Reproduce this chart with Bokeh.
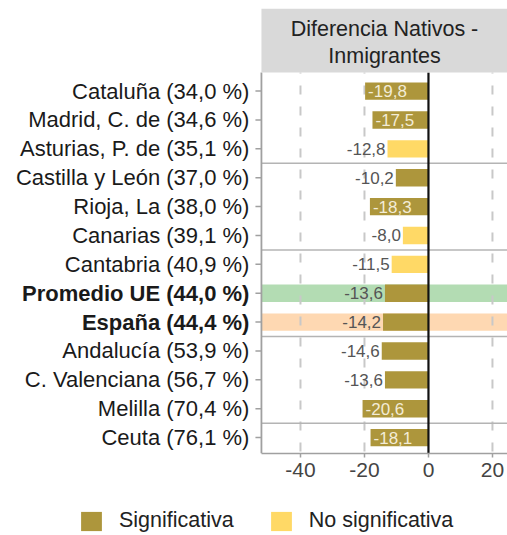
import numpy as np
from bokeh.plotting import figure
from bokeh.layouts import column
from bokeh.models import ColumnDataSource, Range1d, FixedTicker, Legend, LegendItem
from bokeh.core.properties import value
from bokeh.embed import file_html
from bokeh.resources import INLINE

# ---------------- data ----------------
regions = ["Cataluña (34,0 %)", "Madrid, C. de (34,6 %)", "Asturias, P. de (35,1 %)",
           "Castilla y León (37,0 %)", "Rioja, La (38,0 %)", "Canarias (39,1 %)",
           "Cantabria (40,9 %)", "Promedio UE (44,0 %)", "España (44,4 %)",
           "Andalucía (53,9 %)", "C. Valenciana (56,7 %)", "Melilla (70,4 %)",
           "Ceuta (76,1 %)"]
diffs = [-19.8, -17.5, -12.8, -10.2, -18.3, -8.0, -11.5, -13.6, -14.2, -14.6, -13.6, -20.6, -18.1]
significant = [True, True, False, True, True, False, False, True, True, True, True, True, True]
bold_rows = ["Promedio UE (44,0 %)", "España (44,4 %)"]
highlight_rows = {"Promedio UE (44,0 %)": "#b3dcb3", "España (44,4 %)": "#fed8b2"}
separator_after = ["Asturias, P. de (35,1 %)", "Canarias (39,1 %)", "España (44,4 %)", "Melilla (70,4 %)"]
x_ticks = [-40, -20, 0, 20]
grid_ticks = [-40, -20, 20]
strip_title = "Diferencia Nativos -\nInmigrantes"
legend_labels = ["Significativa", "No significativa"]

# ---------------- styles ----------------
FONT = "Liberation Sans"
COL_SIG = "#ad963c"
COL_NS = "#ffd966"
AXIS_COL = "#a0a0a0"
BAR_H = 0.6
X_VIEW_LO = -133.75          # left edge of the figure (label area)
X_LO, X_HI = -52.2, 24.7     # panel extent
PANEL_TOP, PANEL_BOT = -0.64, 12.55
STRIP_TOP = -2.86
INSIDE_MIN = 15

n = len(regions)
ys = list(range(n))

p = figure(width=507, height=490, output_backend="svg", toolbar_location=None,
           x_range=Range1d(X_VIEW_LO, X_HI), y_range=Range1d(PANEL_BOT, STRIP_TOP),
           min_border_left=0, min_border_right=0, min_border_top=8, min_border_bottom=37)
p.outline_line_color = None
p.xgrid.visible = False
p.ygrid.visible = False
p.yaxis.visible = False
p.background_fill_color = "white"
p.border_fill_color = "white"

# highlight bands
hl_y = [regions.index(r) for r in highlight_rows]
hl_c = list(highlight_rows.values())
p.hbar(y=hl_y, left=X_LO, right=X_HI, height=BAR_H, color=hl_c, line_color=None)

# dashed grid lines
p.segment(x0=grid_ticks, x1=grid_ticks, y0=PANEL_TOP, y1=PANEL_BOT,
          line_color="#c8c8c8", line_width=2, line_dash="9 12", line_dash_offset=8)

# group separators
sep_y = [regions.index(r) + 0.5 for r in separator_after]
p.segment(x0=X_LO, x1=X_HI, y0=sep_y, y1=sep_y, line_color="#b4b4b4", line_width=1.5)

# bars
sig_src = ColumnDataSource(dict(y=[y for y, s in zip(ys, significant) if s],
                                v=[d for d, s in zip(diffs, significant) if s]))
ns_src = ColumnDataSource(dict(y=[y for y, s in zip(ys, significant) if not s],
                               v=[d for d, s in zip(diffs, significant) if not s]))
p.hbar(y="y", left=0, right="v", height=BAR_H, source=sig_src, color=COL_SIG, line_color=None)
p.hbar(y="y", left=0, right="v", height=BAR_H, source=ns_src, color=COL_NS, line_color=None)

# value labels
def fmt(v):
    return f"{v:.1f}".replace(".", ",")

in_src = ColumnDataSource(dict(x=[d for d in diffs if abs(d) > INSIDE_MIN],
                               y=[y for y, d in zip(ys, diffs) if abs(d) > INSIDE_MIN],
                               t=[fmt(d) for d in diffs if abs(d) > INSIDE_MIN]))
out_src = ColumnDataSource(dict(x=[d for d in diffs if abs(d) <= INSIDE_MIN],
                                y=[y for y, d in zip(ys, diffs) if abs(d) <= INSIDE_MIN],
                                t=[fmt(d) for d in diffs if abs(d) <= INSIDE_MIN]))
p.text(x="x", y="y", text="t", source=in_src, x_offset=3, text_align="left", text_baseline="middle",
       text_font=value(FONT), text_font_size="17px", text_color="#f3ecd6")
p.text(x="x", y="y", text="t", source=out_src, x_offset=-2, text_align="right", text_baseline="middle",
       text_font=value(FONT), text_font_size="17px", text_color="#555555")

# zero line
p.segment(x0=[0], x1=[0], y0=PANEL_TOP, y1=PANEL_BOT, line_color="#111111", line_width=2.2)

# panel left border + category ticks
p.segment(x0=[X_LO], x1=[X_LO], y0=PANEL_TOP, y1=PANEL_BOT, line_color=AXIS_COL, line_width=1.8)
p.ray(x=X_LO, y=ys, length=6, length_units="screen", angle=np.pi,
      line_color=AXIS_COL, line_width=1.5)

# category labels
norm_src = ColumnDataSource(dict(y=[y for y, r in zip(ys, regions) if r not in bold_rows],
                                 t=[r for r in regions if r not in bold_rows]))
bold_src = ColumnDataSource(dict(y=[y for y, r in zip(ys, regions) if r in bold_rows],
                                 t=[r for r in regions if r in bold_rows]))
p.text(x=X_LO, y="y", text="t", source=norm_src, x_offset=-12, text_align="right",
       text_baseline="middle", text_font=value(FONT), text_font_size="22px", text_color="#1a1a1a")
p.text(x=X_LO, y="y", text="t", source=bold_src, x_offset=-12, text_align="right",
       text_baseline="middle", text_font=value(FONT), text_font_size="22px",
       text_font_style="bold", text_color="#1a1a1a")

# facet strip
p.quad(left=X_LO, right=X_HI, bottom=PANEL_TOP, top=STRIP_TOP, color="#d9d9d9", line_color=None)
p.text(x=[(X_LO + X_HI) / 2], y=[(PANEL_TOP + STRIP_TOP) / 2], text=[strip_title],
       y_offset=2, text_align="center", text_baseline="middle", text_font=value(FONT),
       text_font_size="21.5px", text_color="#222222", text_line_height=1.1)

# x axis
xa = p.xaxis[0]
xa.ticker = FixedTicker(ticks=x_ticks)
xa.bounds = (X_LO, X_HI)
xa.major_label_overrides = {t: str(t) for t in x_ticks}
xa.axis_line_color = AXIS_COL
xa.axis_line_width = 1.5
xa.major_tick_line_color = AXIS_COL
xa.major_tick_line_width = 1.5
xa.major_tick_out = 4
xa.major_tick_in = 0
xa.minor_tick_line_color = None
xa.major_label_text_font = FONT
xa.major_label_text_font_size = "21px"
xa.major_label_text_color = "#444444"
xa.major_label_standoff = 5

# legend figure (glyph data sits outside its visible range; only the legend shows)
lf = figure(width=507, height=45, output_backend="svg", toolbar_location=None,
            x_range=Range1d(0, 1), y_range=Range1d(0, 1), min_border=0)
lf.outline_line_color = None
lf.axis.visible = False
lf.grid.visible = False
r1 = lf.hbar(y=[-10], left=[0], right=[1], height=1, color=COL_SIG, line_color=None)
r2 = lf.hbar(y=[-10], left=[0], right=[1], height=1, color=COL_NS, line_color=None)
legend = Legend(items=[LegendItem(label=legend_labels[0], renderers=[r1]),
                       LegendItem(label=legend_labels[1], renderers=[r2])],
                orientation="horizontal", location=(78, 2),
                glyph_width=26, glyph_height=24, label_standoff=15, spacing=34,
                padding=0, margin=0, border_line_color=None, background_fill_alpha=0,
                label_text_font=FONT, label_text_font_size="21.5px", label_text_color="#222222")
lf.add_layout(legend)

layout = column(p, lf, spacing=0)
open("out.html", "w").write(file_html(layout, INLINE))
